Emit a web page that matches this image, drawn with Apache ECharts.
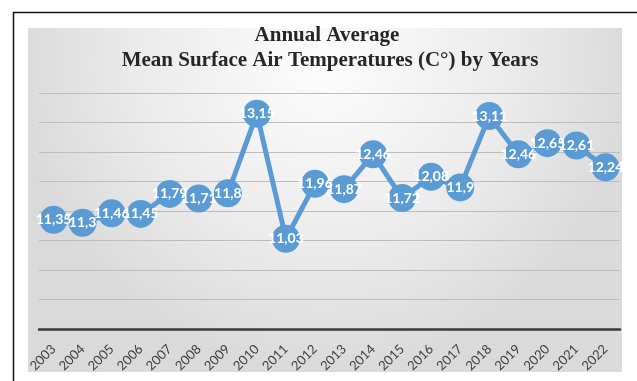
<!DOCTYPE html>
<html>
<head>
<meta charset="utf-8">
<script src="https://cdn.jsdelivr.net/npm/echarts@6/dist/echarts.min.js"></script>
<style>
  html, body { margin: 0; padding: 0; background: #fff; }
  #chart { width: 637px; height: 381px; }
</style>
</head>
<body>
<div id="chart"></div>
<script>
// data
const years = ['2003', '2004', '2005', '2006', '2007', '2008', '2009', '2010', '2011', '2012',
  '2013', '2014', '2015', '2016', '2017', '2018', '2019', '2020', '2021', '2022']
const temps = [11.35, 11.3, 11.46, 11.45, 11.79, 11.71, 11.8, 13.15, 11.03, 11.96,
  11.87, 12.46, 11.72, 12.08, 11.9, 13.11, 12.46, 12.65, 12.61, 12.24]
const titleLines = ['Annual Average', 'Mean Surface Air Temperatures (C°) by Years']

const chart = echarts.init(document.getElementById('chart'))

const option = {
  animation: false,
  graphic: [
    // outer frame
    {
      type: 'rect', z: -10, silent: true,
      shape: { x: 13.5, y: 12.5, width: 700, height: 500 },
      style: { fill: '#fff', stroke: '#111', lineWidth: 1.5 },
    },
    // chart area background
    {
      type: 'rect', z: -9, silent: true,
      shape: { x: 28, y: 28, width: 594, height: 344 },
      style: {
        fill: new echarts.graphic.RadialGradient(0.5, 0.1, 0.9, [
          { offset: 0, color: '#fdfdfd' },
          { offset: 0.6, color: '#ebebeb' },
          { offset: 1, color: '#dadada' },
        ]),
      },
    },
    {
      type: 'text', z: 10, silent: true,
      x: 327, y: 36,
      style: {
        text: titleLines[0], textAlign: 'center', textVerticalAlign: 'middle',
        font: 'bold 21px "Liberation Serif"', fill: '#262626',
      },
    },
    {
      type: 'text', z: 10, silent: true,
      x: 330, y: 61,
      style: {
        text: titleLines[1], textAlign: 'center', textVerticalAlign: 'middle',
        font: 'bold 21px "Liberation Serif"', fill: '#262626',
      },
    },
  ],
  grid: { left: 39, right: 17, top: 93, bottom: 52 },
  xAxis: {
    type: 'category',
    data: years,
    boundaryGap: true,
    axisLine: { lineStyle: { color: '#3a3a3a', width: 2.5 } },
    axisTick: { show: false },
    axisLabel: {
      rotate: 45, margin: 18, fontSize: 13, color: '#404040', fontFamily: 'Lato',
      interval: 0,
    },
  },
  yAxis: {
    type: 'value',
    min: 9.5,
    max: 13.5,
    interval: 0.5,
    axisLabel: { show: false },
    axisLine: { show: false },
    axisTick: { show: false },
    splitLine: { lineStyle: { color: '#bdbdbd', width: 1 } },
  },
  series: [
    {
      type: 'line',
      data: temps,
      symbol: 'circle',
      symbolSize: 28,
      lineStyle: { color: '#5b9bd5', width: 5 },
      itemStyle: { color: '#5b9bd5' },
      label: {
        show: true,
        position: 'inside',
        color: '#fff',
        fontWeight: 'bold',
        fontSize: 14,
        fontFamily: 'Lato',
        formatter: p => String(p.value).replace('.', ','),
      },
    },
  ],
}

chart.setOption(option)
</script>
</body>
</html>
